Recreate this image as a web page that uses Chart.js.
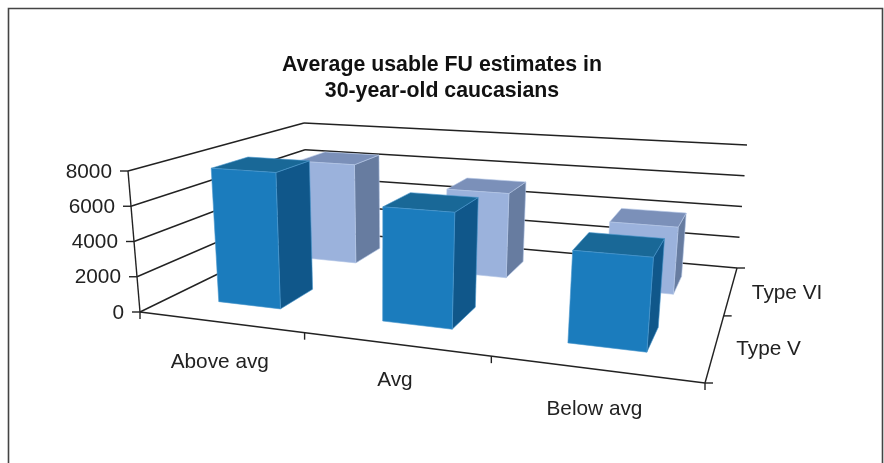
<!DOCTYPE html>
<html>
<head>
<meta charset="utf-8">
<title>Average usable FU estimates</title>
<script src="https://cdn.jsdelivr.net/npm/chart.js@4/dist/chart.umd.min.js"></script>
<style>
    html, body { margin: 0; background: #fff; }
    canvas { display: block; }
</style>
</head>
<body>
<canvas id="fuChart" width="884" height="463"></canvas>
<script>
// data
const categories = ["Above avg", "Avg", "Below avg"];
const seriesNames = ["Type V", "Type VI"];
const typeV = [7800, 6300, 4800];
const typeVI = [6500, 5300, 4000];
const yTicks = [0, 2000, 4000, 6000, 8000];
const titleLines = ["Average usable FU estimates in", "30-year-old caucasians"];

// corners of the 3D box on screen: front left, front right, back right, back left
const floorBox = [[140, 312], [705, 383], [737, 268], [308, 230]];
const topBox = [[128, 171], [719, 212], [747, 145], [304, 123]];
const barWidth = 0.39; // share of a category
const barDepth = 0.39; // share of a series row
const categoryLabelDrop = [40, 36, 40]; // the middle label sits a bit higher in the original
const lineColor = "#222";
const textColor = "#222";
const labelFont = "20.8px 'Liberation Sans', Arial, sans-serif";

// unit square -> quad
function makeProjection(q) {
    const [x0, y0] = q[0], [x1, y1] = q[1], [x2, y2] = q[2], [x3, y3] = q[3];
    const dx1 = x1 - x2, dx2 = x3 - x2, sx = x0 - x1 + x2 - x3;
    const dy1 = y1 - y2, dy2 = y3 - y2, sy = y0 - y1 + y2 - y3;
    const den = dx1 * dy2 - dx2 * dy1;
    const g = (sx * dy2 - dx2 * sy) / den;
    const h = (dx1 * sy - sx * dy1) / den;
    const a = x1 - x0 + g * x1, b = x3 - x0 + h * x3;
    const d = y1 - y0 + g * y1, e = y3 - y0 + h * y3;
    return (u, v) => {
        const w = g * u + h * v + 1;
        return [(a * u + b * v + x0) / w, (d * u + e * v + y0) / w];
    };
}
const floorAt = makeProjection(floorBox);
const topAt = makeProjection(topBox);

// u along categories, v along series, h up the value axis, all 0..1
function project(u, v, h) {
    const p = floorAt(u, v), q = topAt(u, v);
    return [p[0] + (q[0] - p[0]) * h, p[1] + (q[1] - p[1]) * h];
}

// share of the axis height for a value, through the y scale
function heightOf(chart, value) {
    const y = chart.scales.y;
    return (y.bottom - y.getPixelForValue(value)) / y.height;
}

function poly(ctx, pts, fill, edge) {
    ctx.beginPath();
    pts.forEach((p, i) => (i ? ctx.lineTo(p[0], p[1]) : ctx.moveTo(p[0], p[1])));
    ctx.closePath();
    ctx.fillStyle = fill;
    ctx.fill();
    ctx.strokeStyle = edge;
    ctx.lineWidth = 0.6;
    ctx.stroke();
}

function segment(ctx, a, b) {
    ctx.beginPath();
    ctx.moveTo(a[0], a[1]);
    ctx.lineTo(b[0], b[1]);
    ctx.stroke();
}

// bar chart that draws its bars as boxes in the projected space
class Bar3dController extends Chart.BarController {
    draw() {
        const chart = this.chart, ctx = chart.ctx;
        const xs = chart.scales.x, ds = chart.scales.d;
        const set = this.getDataset();
        const v = (ds.getPixelForValue(this.index) - ds.left) / ds.width;
        const halfU = barWidth / categories.length / 2;
        const halfV = barDepth / seriesNames.length / 2;
        ctx.save();
        this.getMeta().data.forEach((el, i) => {
            const u = (xs.getPixelForValue(i) - xs.left) / xs.width;
            const h = heightOf(chart, this.getParsed(i).y);
            const u0 = u - halfU, u1 = u + halfU, v0 = v - halfV, v1 = v + halfV;
            poly(ctx, [project(u1, v0, 0), project(u1, v1, 0), project(u1, v1, h), project(u1, v0, h)], set.sideColor, set.edgeColor);
            poly(ctx, [project(u0, v0, h), project(u1, v0, h), project(u1, v1, h), project(u0, v1, h)], set.topColor, set.edgeColor);
            poly(ctx, [project(u0, v0, 0), project(u1, v0, 0), project(u1, v0, h), project(u0, v0, h)], set.backgroundColor, set.edgeColor);
        });
        ctx.restore();
    }
}
Bar3dController.id = "bar3d";
Bar3dController.defaults = Chart.BarController.defaults;
Bar3dController.overrides = Chart.BarController.overrides;
Chart.register(Bar3dController);

// outer frame, walls, floor, ticks and their labels
const boxPlugin = {
    id: "box3d",
    beforeDatasetsDraw(chart) {
        const ctx = chart.ctx;
        const xs = chart.scales.x, ds = chart.scales.d;
        ctx.save();

        ctx.strokeStyle = "#444";
        ctx.lineWidth = 1.6;
        ctx.beginPath();
        ctx.moveTo(8.5, 470);
        ctx.lineTo(8.5, 8.5);
        ctx.lineTo(882.5, 8.5);
        ctx.lineTo(882.5, 470);
        ctx.stroke();

        ctx.strokeStyle = lineColor;
        ctx.lineWidth = 1.4;
        ctx.fillStyle = textColor;
        ctx.font = labelFont;

        // value axis and wall lines
        segment(ctx, project(0, 0, 0), project(0, 0, 1));
        ctx.textAlign = "right";
        ctx.textBaseline = "middle";
        yTicks.forEach((t) => {
            const h = heightOf(chart, t);
            const a = project(0, 0, h);
            segment(ctx, [a[0] - 8, a[1]], a);
            segment(ctx, a, project(0, 1, h));
            segment(ctx, project(0, 1, h), project(1, 1, h));
            ctx.fillText(String(t), a[0] - 16, a[1] + 1);
        });

        // floor edges
        segment(ctx, project(0, 0, 0), project(1, 0, 0));
        segment(ctx, project(1, 0, 0), project(1, 1, 0));

        // category ticks and labels
        ctx.textAlign = "center";
        for (let i = 0; i <= categories.length; i++) {
            const p = project(i / categories.length, 0, 0);
            segment(ctx, p, [p[0], p[1] + 7]);
        }
        categories.forEach((c, i) => {
            const p = project((xs.getPixelForValue(i) - xs.left) / xs.width, 0, 0);
            ctx.fillText(c, p[0], p[1] + categoryLabelDrop[i]);
        });

        // series ticks and labels
        ctx.textAlign = "left";
        for (let i = 0; i <= seriesNames.length; i++) {
            const p = project(1, i / seriesNames.length, 0);
            segment(ctx, p, [p[0] + 8, p[1]]);
        }
        seriesNames.forEach((s, i) => {
            const p = project(1, (ds.getPixelForValue(i) - ds.left) / ds.width, 0);
            ctx.fillText(s, p[0] + 21, p[1] + 3);
        });
        ctx.restore();
    },
};

new Chart(document.getElementById("fuChart"), {
    type: "bar3d",
    data: {
        labels: categories,
        datasets: [
            { label: seriesNames[0], data: typeV, backgroundColor: "#1b7cbd", sideColor: "#10578a", topColor: "#196897", edgeColor: "#4a97cc" },
            { label: seriesNames[1], data: typeVI, backgroundColor: "#9bb2dc", sideColor: "#677ca0", topColor: "#7b90b9", edgeColor: "#b4c6e6" },
        ],
    },
    options: {
        responsive: false,
        animation: false,
        plugins: {
            legend: { display: false },
            tooltip: { enabled: false },
            title: {
                display: true,
                text: titleLines,
                color: "#111",
                font: { family: "'Liberation Sans', Arial, sans-serif", size: 21.3, weight: "bold", lineHeight: 1.22 },
                padding: { top: 52, bottom: 10 },
            },
        },
        scales: {
            x: { type: "category", offset: true, display: false },
            d: { type: "category", labels: seriesNames, offset: true, display: false, position: "bottom", axis: "x" },
            y: { type: "linear", min: 0, max: 8000, display: false, ticks: { stepSize: 2000 } },
        },
    },
    plugins: [boxPlugin],
});
</script>
</body>
</html>
